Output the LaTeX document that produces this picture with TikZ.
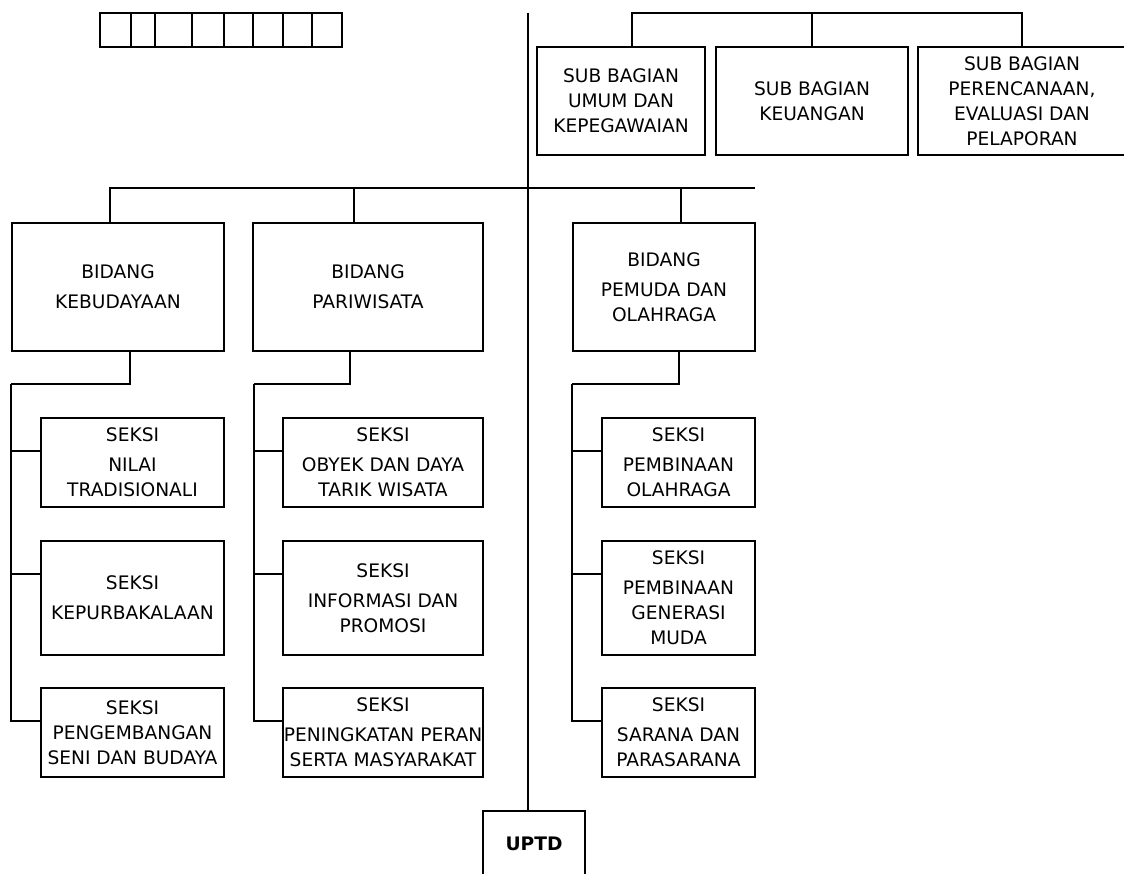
\documentclass[tikz,border=0pt]{standalone}
\usepackage{fontspec}
\setmainfont{DejaVu Sans}
\usetikzlibrary{positioning}

\begin{document}
\begin{tikzpicture}[x=0.02cm, y=-0.02cm,
    garis/.style={line width=1pt},
    kotak/.style={draw, line width=1pt, align=center, inner sep=0pt,
        font=\fontsize{10.6}{14.2}\selectfont},
    subbag/.style={kotak, minimum height=2.16cm},
    bidang/.style={kotak, minimum height=2.56cm},
    seksi/.style={kotak, minimum height=1.78cm},
    seksitinggi/.style={kotak, minimum height=2.28cm}]
    \clip (0,0) rectangle (1124,874);

    % Kotak kecil di kiri atas
    \draw[garis] (100,13) rectangle (342,47);
    \foreach \x in {131,155,192,224,253,283,312}
        \draw[garis] (\x,13) -- (\x,47);

    % Sub bagian
    \node[subbag, minimum width=3.36cm] (sb1) at (621,101) {SUB BAGIAN\\UMUM DAN\\KEPEGAWAIAN};
    \node[subbag, minimum width=3.84cm] (sb2) at (812,101) {SUB BAGIAN\\KEUANGAN};
    \node[subbag, minimum width=4.16cm] (sb3) at (1022,101) {SUB BAGIAN\\PERENCANAAN,\\EVALUASI DAN\\PELAPORAN};

    % Bidang
    \node[bidang, minimum width=4.24cm] (bk) at (118,287) {BIDANG\\[2.8pt]KEBUDAYAAN};
    \node[bidang, minimum width=4.6cm] (bp) at (368,287) {BIDANG\\[2.8pt]PARIWISATA};
    \node[bidang, minimum width=3.64cm] (bo) at (664,287) {BIDANG\\[2.8pt]PEMUDA DAN\\OLAHRAGA};

    % Seksi kebudayaan
    \node[seksi, minimum width=3.66cm] (s11) at (132.5,462.5) {SEKSI\\[2.8pt]NILAI\\TRADISIONALI};
    \node[seksitinggi, minimum width=3.66cm] (s12) at (132.5,598) {SEKSI\\[2.8pt]KEPURBAKALAAN};
    \node[seksi, minimum width=3.66cm] (s13) at (132.5,732.5) {SEKSI\\PENGEMBANGAN\\SENI DAN BUDAYA};

    % Seksi pariwisata
    \node[seksi, minimum width=4cm] (s21) at (383,462.5) {SEKSI\\[2.8pt]OBYEK DAN DAYA\\TARIK WISATA};
    \node[seksitinggi, minimum width=4cm] (s22) at (383,598) {SEKSI\\[2.8pt]INFORMASI DAN\\PROMOSI};
    \node[seksi, minimum width=4cm] (s23) at (383,732.5) {SEKSI\\[2.8pt]PENINGKATAN PERAN\\SERTA MASYARAKAT};

    % Seksi pemuda dan olahraga
    \node[seksi, minimum width=3.06cm] (s31) at (678.5,462.5) {SEKSI\\[2.8pt]PEMBINAAN\\OLAHRAGA};
    \node[seksitinggi, minimum width=3.06cm] (s32) at (678.5,598) {SEKSI\\[2.8pt]PEMBINAAN\\GENERASI\\MUDA};
    \node[seksi, minimum width=3.06cm] (s33) at (678.5,732.5) {SEKSI\\[2.8pt]SARANA DAN\\PARASARANA};

    % UPTD
    \node[kotak, font=\fontsize{10.6}{14.2}\selectfont\bfseries,
        minimum width=2.04cm, minimum height=1.32cm] (uptd) at (534,844) {UPTD};

    % Garis tengah
    \coordinate (garisAtas) at (528,13);
    \draw[garis] (garisAtas) -- (garisAtas |- uptd.north);

    % Garis sub bagian
    \coordinate (busAtas) at (0,13);
    \coordinate (sb1Top) at ([xshift=0.22cm]sb1.north);
    \draw[garis] (sb1Top) |- (sb3.north |- busAtas) -- (sb3.north);
    \draw[garis] (sb2.north) -- (sb2.north |- busAtas);

    % Garis bidang
    \coordinate (busEnd) at (755,188);
    \coordinate (bkTop) at ([xshift=-0.16cm]bk.north);
    \coordinate (bpTop) at ([xshift=-0.28cm]bp.north);
    \coordinate (boTop) at ([xshift=0.34cm]bo.north);
    \draw[garis] (bkTop) |- (busEnd);
    \draw[garis] (bpTop) -- (bpTop |- busEnd);
    \draw[garis] (boTop) -- (boTop |- busEnd);

    % Garis seksi
    \coordinate (kSpine) at (11,384);
    \coordinate (pSpine) at (254,384);
    \coordinate (oSpine) at (572,384);
    \draw[garis] ([xshift=0.24cm]bk.south) |- (kSpine);
    \draw[garis] ([xshift=-0.36cm]bp.south) |- (pSpine);
    \draw[garis] ([xshift=0.3cm]bo.south) |- (oSpine);
    \foreach \sp/\c in {kSpine/1, pSpine/2, oSpine/3} {
        \foreach \r in {1,2,3}
            \draw[garis] (\sp) |- ([yshift=-0.68cm]s\c\r.north west);
    }
\end{tikzpicture}
\end{document}
